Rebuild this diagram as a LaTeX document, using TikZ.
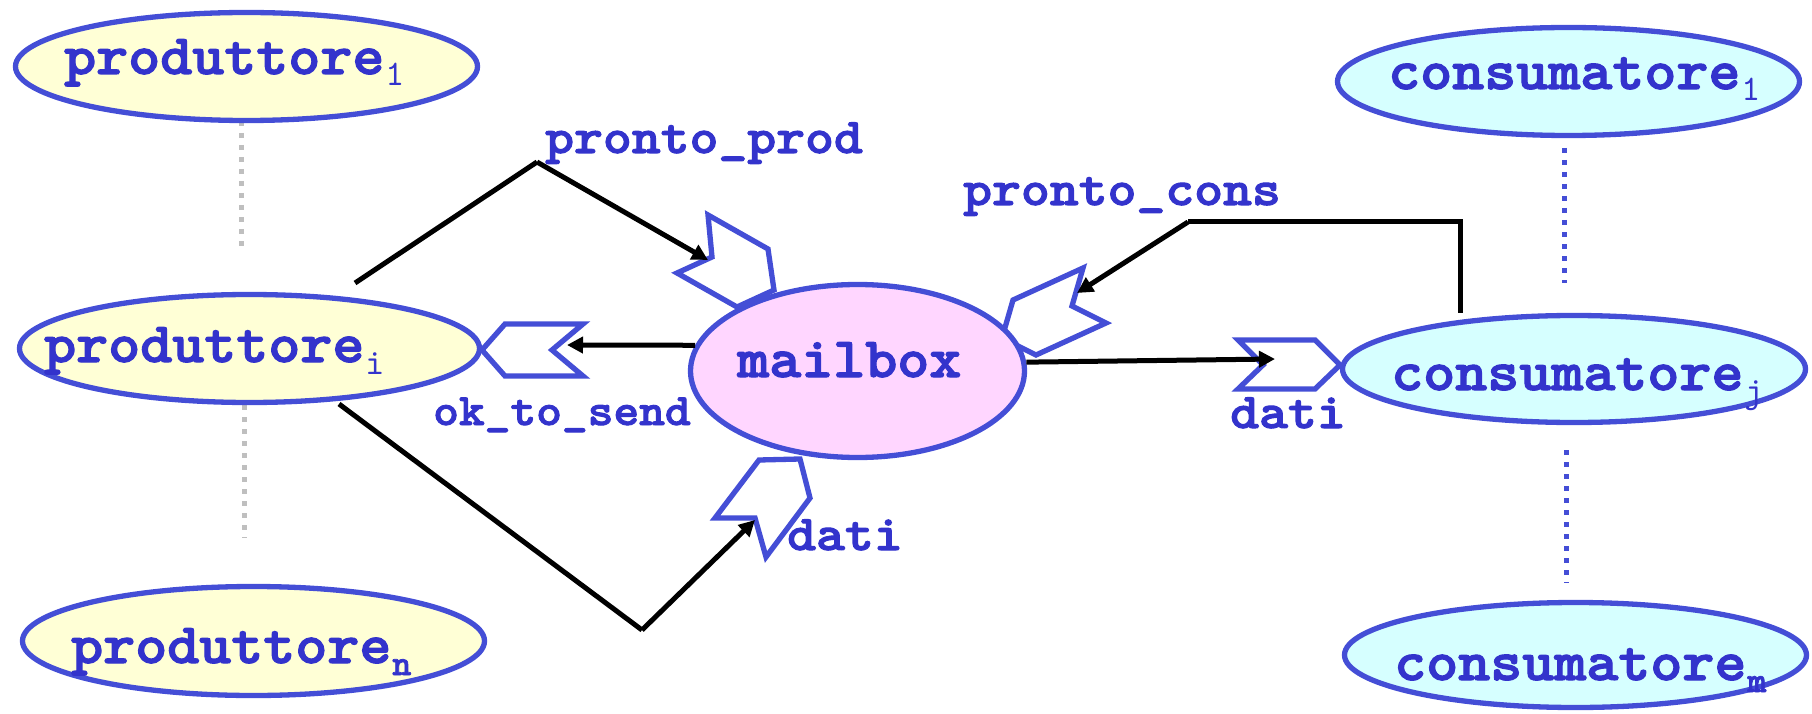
\documentclass[tikz,border=0pt]{standalone}
\usepackage{fontspec}
\newfontfamily\heavymono{lmmonolt10-bold.otf}[FakeBold=2]
\newfontfamily\plainmono{lmmono10-regular.otf}
\usetikzlibrary{shapes.geometric,arrows.meta}
\definecolor{txtblue}{RGB}{51,51,204}
\definecolor{edgeblue}{RGB}{68,78,214}
\definecolor{prodfill}{RGB}{255,255,214}
\definecolor{consfill}{RGB}{214,255,255}
\definecolor{boxfill}{RGB}{255,214,255}
\definecolor{dotgrey}{RGB}{191,191,191}
% monospaced bold text, widened a little
\newcommand\widemono[2]{\scalebox{#1}[1]{#2}}
% lowered index after a process name
\newcommand\procidx[2][\plainmono]{\kern1pt\raisebox{-12pt}{#1\fontsize{36}{36}\selectfont#2}}
\tikzset{
  proc/.style={ellipse, draw=edgeblue, line width=5.3pt, inner sep=0pt},
  procname/.style={text=txtblue, anchor=base west, inner sep=0pt,
    font={\heavymono\fontsize{57}{60}\selectfont}},
  chan/.style={text=txtblue, anchor=base west, inner sep=0pt,
    font={\heavymono\fontsize{50}{52}\selectfont}},
  port/.style={draw=edgeblue, fill=white, line width=5.3pt, line join=miter},
  wire/.style={black, line width=5pt},
  arr/.style={wire, -{Triangle[length=16pt,width=16pt]}},
  greydots/.style={dotgrey, line width=5pt, dash pattern=on 5pt off 7pt},
  bluedots/.style={edgeblue, line width=5pt, dash pattern=on 5pt off 7pt},
}
\begin{document}
\begin{tikzpicture}[x=1pt, y=-1pt]
\useasboundingbox (0,0) rectangle (1812,714);

% ellipsis between the processes of each group
\coordinate (g1a) at (241,121); \coordinate (g1b) at (241,250);
\coordinate (g2a) at (244,405); \coordinate (g2b) at (244,538);
\coordinate (b1a) at (1564,148); \coordinate (b1b) at (1564,283);
\coordinate (b2a) at (1566,450); \coordinate (b2b) at (1566,583);
\draw[greydots] (g1a) -- (g1b);
\draw[greydots] (g2a) -- (g2b);
\draw[bluedots] (b1a) -- (b1b);
\draw[bluedots] (b2a) -- (b2b);

% ports
\draw[port] (482,350) -- (505,324) -- (583,324) -- (552,350) -- (583,376) -- (505,376) -- cycle;
\draw[port] (1238,340) -- (1315,340) -- (1340,365) -- (1315,389) -- (1238,389) -- (1263,365) -- cycle;
\draw[port] (708,215) -- (768,249) -- (774,290) -- (737,307) -- (677,273) -- (712,257) -- cycle;
\draw[port] (1083,268) -- (1072,306) -- (1106,323) -- (1036,355) -- (1002,338) -- (1013,300) -- cycle;
\draw[port] (715,518) -- (755,518) -- (766,557) -- (810,498) -- (800,459) -- (759,460) -- cycle;

% processes
\node[proc, fill=prodfill, minimum width=462pt, minimum height=108pt] (p1) at (246.5,66.5) {};
\node[proc, fill=prodfill, minimum width=460pt, minimum height=108pt] (pi) at (249.5,348.5) {};
\node[proc, fill=prodfill, minimum width=462pt, minimum height=109pt] (pn) at (253.5,641) {};
\node[proc, fill=consfill, minimum width=462pt, minimum height=108pt] (c1) at (1568.5,81.5) {};
\node[proc, fill=consfill, minimum width=463pt, minimum height=107pt] (cj) at (1574,369) {};
\node[proc, fill=consfill, minimum width=462pt, minimum height=105pt] (cm) at (1575.5,655) {};
\node[proc, fill=boxfill, minimum width=334pt, minimum height=173pt] (mb) at (857.5,371) {};

% process names
\node[procname] (p1t) at (64,74) {\widemono{1.07}{produttore}\procidx{1}};
\node[procname] (pit) at (44,362) {\widemono{1.07}{produttore}\procidx{i}};
\node[procname] (pnt) at (71,663) {\widemono{1.07}{produttore}\procidx[\heavymono]{n}};
\node[procname] (c1t) at (1388,89) {\widemono{1.07}{consumatore}\procidx{1}};
\node[procname] (cjt) at (1391,390) {\widemono{1.07}{consumatore}\procidx{j}};
\node[procname] (cmt) at (1394,680) {\widemono{1.07}{consumatore}\procidx[\heavymono]{m}};
\node[procname] (mbt) at (737,377) {\widemono{1.07}{mailbox}};

% channel names
\node[chan] (lpp) at (545,153) {\widemono{1.1}{pronto\_prod}};
\node[chan] (lpc) at (963,205) {\widemono{1.1}{pronto\_cons}};
\node[chan, font={\heavymono\fontsize{45}{47}\selectfont}] (lok) at (433,425) {\widemono{1.09}{ok\_to\_send}};
\node[chan] (ld1) at (787,550) {\widemono{1.1}{dati}};
\node[chan] (ld2) at (1230,428) {\widemono{1.1}{dati}};

% connections
\coordinate (ppFoot) at (355,283);
\coordinate (ppApex) at (537,162);
\coordinate (ppTip) at (708,260);
\draw[wire] (ppFoot) -- (ppApex);
\draw[arr] (ppApex) -- (ppTip);

\coordinate (okTip) at (567,345);
\draw[arr] (mb.171) -- (okTip);

\coordinate (dbFoot) at (339,404);
\coordinate (dbVertex) at (642,630);
\coordinate (dbTip) at (755,520);
\draw[wire] (dbFoot) -- (dbVertex);
\draw[arr] (dbVertex) -- (dbTip);

\coordinate (pcCorner) at (1460,222);
\coordinate (pcBend) at (1188,222);
\coordinate (pcTip) at (1077,293);
\draw[wire] (pcCorner |- cj.north) -- (pcCorner) -- (pcBend);
\draw[arr] (pcBend) -- (pcTip);

\coordinate (drTip) at (1275,359);
\draw[arr] (mb.3) -- (drTip);
\end{tikzpicture}
\end{document}
